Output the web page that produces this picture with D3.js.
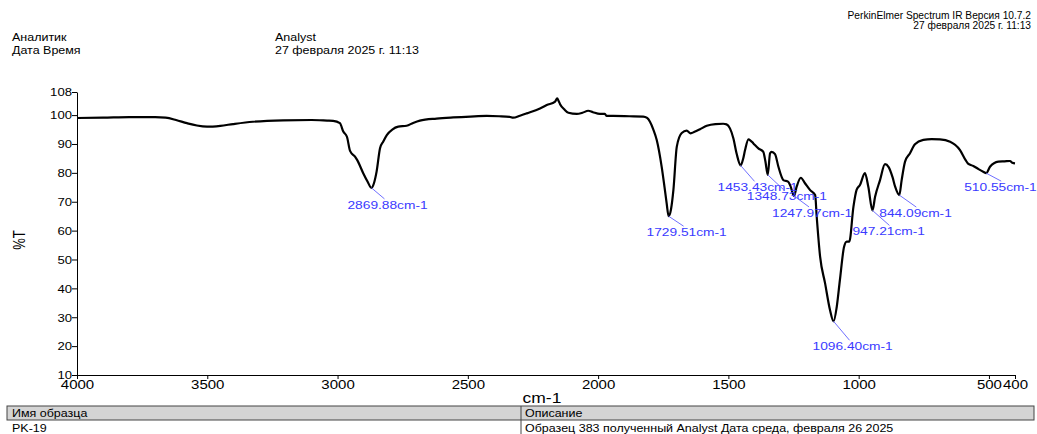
<!DOCTYPE html>
<html><head><meta charset="utf-8">
<script src="https://cdn.jsdelivr.net/npm/d3@7"></script>
<style>
html,body{margin:0;padding:0;background:#fff;}
svg{display:block;font-family:"Liberation Sans",Arial,sans-serif;}
</style></head>
<body>
<svg id="chart" width="1037" height="434"></svg>
<script>
// ---- data ----
const wavenumbers = [4000,3900,3800,3700,3660,3620,3578,3540,3501,3450,3401,3325,3209,3100,3040,3017,2991,2978,2964,2952,2933,2925,2901,2885,2870,2860,2850,2837,2825,2811,2790,2767,2735,2710,2684,2620,2556,2490,2428,2380,2340,2326,2300,2274,2223,2197,2165,2157,2152,2146,2130,2114,2082,2060,2038,2020,1993,1974,1967,1942,1880,1827,1812,1801,1788,1775,1756,1745,1737,1729.5,1720,1711,1698,1679,1660,1645,1630,1609,1583,1550,1520,1507,1494,1481,1468,1453,1443,1436,1423,1415,1404,1385,1366,1358,1349,1340,1334,1321,1308,1289,1270,1262,1248,1238,1222,1206,1187,1167,1161,1148,1129,1110,1096.4,1084,1072,1056,1046,1036,1020,1008,995,976,963,947,937,918,899,885,870,860,844,835,822,803,784,752,720,688,649,611,590,579,560,540,522,510.5,496,464,440,419,410,400];
const transmittance = [99.0,99.1,99.3,99.3,99.1,98.3,97.2,96.4,96.0,96.3,96.9,97.7,98.2,98.3,98.1,98.0,97.2,94.3,92.5,87.6,85.6,84.5,79.8,77.0,74.8,76.5,80.5,88.5,90.8,93.1,95.0,96.0,96.3,97.3,98.1,98.8,99.2,99.5,99.7,99.6,99.4,99.1,99.8,100.6,102.3,103.5,104.7,105.8,105.0,103.8,102.0,100.8,100.4,100.8,101.5,101.0,100.4,100.4,99.7,99.7,99.6,99.5,99.0,97.7,95.0,91.4,82.1,75.0,69.5,65.0,67.5,74.1,89.1,93.8,94.6,93.7,94.2,95.1,96.3,96.9,97.0,96.8,95.4,92.0,86.5,82.6,85.0,87.9,91.6,91.2,90.2,88.5,87.3,84.0,79.3,86.8,87.3,86.5,82.1,77.5,76.9,75.5,72.0,75.2,78.3,76.4,74.1,72.3,64.8,51.0,41.8,32.5,28.6,33.7,42.9,54.4,56.2,56.2,68.3,74.1,75.8,79.9,75.2,67.0,71.7,77.5,83.0,82.0,78.5,75.2,72.3,77.5,83.9,86.8,89.9,91.4,91.7,91.6,90.8,87.9,84.5,83.1,82.4,81.3,80.4,79.9,82.1,83.9,84.0,84.1,83.5,83.3];
const peakWavenumbers = [2869.88,1729.51,1453.43,1348.73,1247.97,1096.40,947.21,844.09,510.55];
const peakTransmittance = [74.8,65.0,82.6,79.3,72.0,28.6,67.0,72.3,79.9];
const xTicks = [4000,3500,3000,2500,2000,1500,1000,500,400];
const yTicks = [108,100,90,80,70,60,50,40,30,20,10];
const headerLeft = [["Аналитик","Analyst"],["Дата Время","27 февраля 2025 г. 11:13"]];
const headerRight = ["PerkinElmer Spectrum IR Версия 10.7.2","27 февраля 2025 г. 11:13"];
const tableHead = ["Имя образца","Описание"];
const tableRow = ["PK-19","Образец 383 полученный Analyst Дата среда, февраля 26 2025"];
// label layout offsets (pixels, relative to peak point): text start dx, baseline dy
const labelDx = [-24,-22,-23,-21,-22,-21,-20,-20,-22];
const labelDy = [21,20,26,25,21,29,25,22,18];

// ---- layout ----
const SX = 1.25; // horizontal text stretch of the original print
const svg = d3.select("#chart");
const m = {left:77, right:1015, top:92, bottom:375};
const x = d3.scaleLinear().domain([4000,400]).range([m.left,m.right]);
const y = d3.scaleLinear().domain([10,108]).range([m.bottom,m.top]);

function txt(parent, px, py, s, size, anchor, fill, rot, sx){
  const k = sx || SX;
  const g = parent.append("g").attr("transform",`translate(${px},${py}) scale(${k},1)` + (rot?` rotate(${rot})`:""));
  return g.append("text").attr("font-size",size).attr("text-anchor",anchor||"start").attr("fill",fill||"#000").text(s);
}

svg.append("rect").attr("width",1037).attr("height",434).attr("fill","#fff");

// header
headerLeft.forEach((r,i)=>{
  txt(svg,12,41+i*13,r[0],10);
  txt(svg,275,41+i*13,r[1],10);
});
headerRight.forEach((s,i)=>txt(svg,1031,19+i*10,s,10,"end",null,0,1.02));

// axes
const yAxis = svg.append("g").attr("transform",`translate(${m.left},0)`)
  .call(d3.axisLeft(y).tickValues(yTicks).tickSize(5).tickSizeOuter(0).tickFormat(d3.format("d")));
yAxis.selectAll("text").attr("x",-4).attr("dy","0.36em").attr("font-size",10.5).attr("font-family",null)
  .attr("transform",`scale(${SX},1)`).attr("fill","#000");
const xAxis = svg.append("g").attr("transform",`translate(0,${m.bottom})`)
  .call(d3.axisBottom(x).tickValues(xTicks).tickSize(4).tickSizeOuter(0).tickFormat(d3.format("d")));
xAxis.selectAll("text").attr("y",14).attr("dy","0").attr("font-size",12).attr("font-family",null)
  .attr("transform",`scale(${SX},1)`).attr("fill","#000");
svg.selectAll(".domain, .tick line").attr("stroke","#000");

// axis titles
txt(svg,542,403,"cm-1",14,"middle");
txt(svg,25,240,"%T",13,"middle",null,-90);

// spectrum
const data = wavenumbers.map((w,i)=>[w,transmittance[i]]);
svg.append("path").datum(data)
  .attr("fill","none").attr("stroke","#000").attr("stroke-width",2.2).attr("stroke-linejoin","round")
  .attr("d",d3.line().x(d=>x(d[0])).y(d=>y(d[1])).curve(d3.curveMonotoneX));

// peak labels
peakWavenumbers.forEach((w,i)=>{
  const px = x(w), py = y(peakTransmittance[i]);
  const tx = px + labelDx[i], ty = py + labelDy[i];
  svg.append("line").attr("x1",px).attr("y1",py).attr("x2",tx+37).attr("y2",ty-10)
    .attr("stroke","#7070ff").attr("stroke-width",1);
  txt(svg,tx,ty,w.toFixed(2)+"cm-1",11,"start","#3a3aff");
});

// bottom table
const tb = svg.append("g");
tb.append("rect").attr("x",7).attr("y",406).attr("width",1027).attr("height",14)
  .attr("fill","#d4d4d4").attr("stroke","#444").attr("stroke-width",1);
tb.append("line").attr("x1",521).attr("x2",521).attr("y1",406).attr("y2",434).attr("stroke","#444");
txt(tb,12,417,tableHead[0],10);
txt(tb,525,417,tableHead[1],10);
txt(tb,12,432,tableRow[0],10);
txt(tb,525,432,tableRow[1],10);
</script>
</body></html>
